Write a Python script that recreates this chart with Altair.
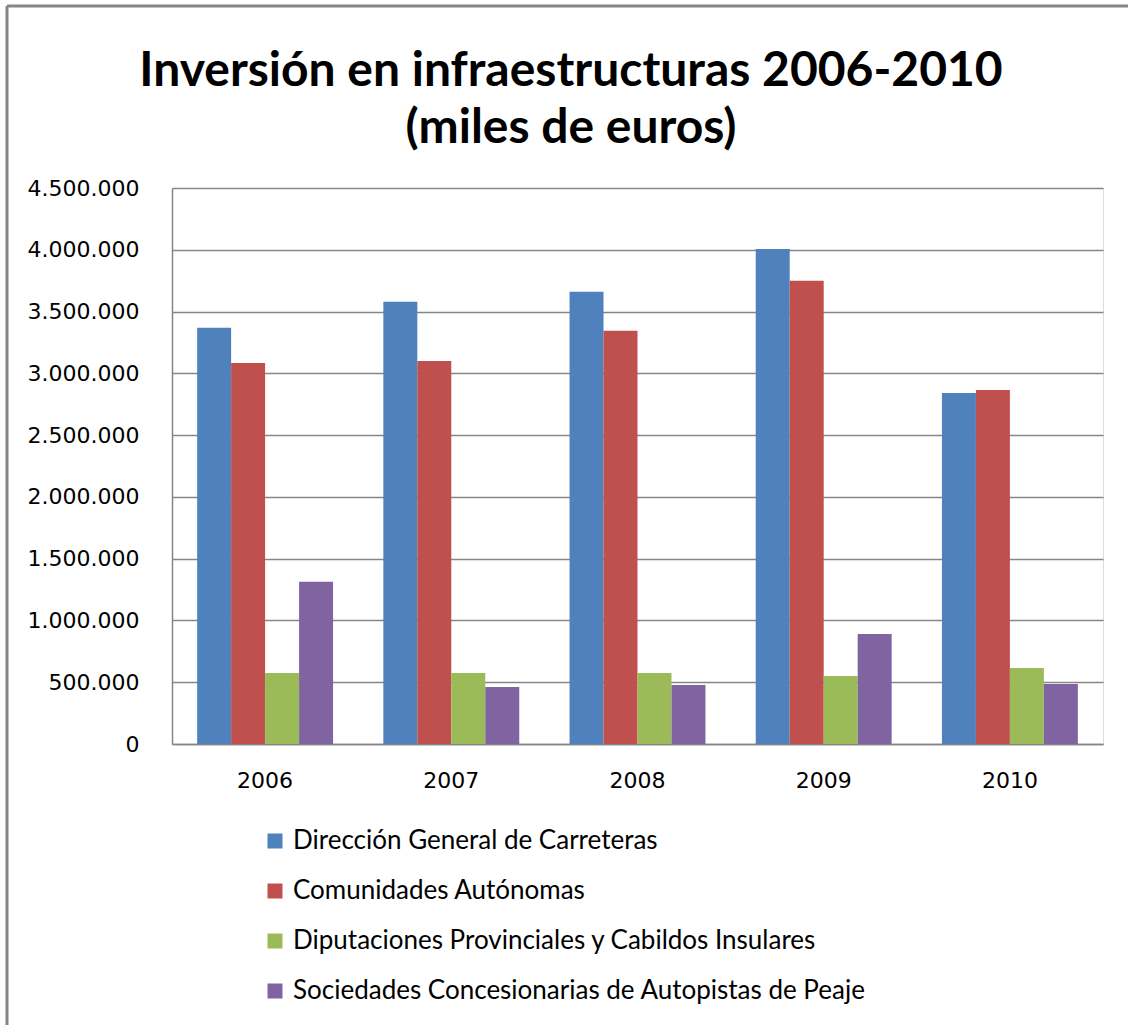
import altair as alt
import pandas as pd

years = ["2006", "2007", "2008", "2009", "2010"]
series = [
    "Dirección General de Carreteras",
    "Comunidades Autónomas",
    "Diputaciones Provinciales y Cabildos Insulares",
    "Sociedades Concesionarias de Autopistas de Peaje",
]
dgc = [3368000, 3579000, 3660000, 4006000, 2841000]
cca = [3084000, 3100000, 3344000, 3749000, 2866000]
dip = [575000, 575000, 575000, 551000, 616000]
soc = [1313000, 462000, 478000, 891000, 486000]
colors = ["#4F81BD", "#C0504D", "#9BBB59", "#8064A2"]
title_lines = ["Inversión en infraestructuras 2006-2010", "(miles de euros)"]

rows = []
for s, vals in zip(series, [dgc, cca, dip, soc]):
    for y, v in zip(years, vals):
        rows.append({"year": y, "serie": s, "value": v})
df = pd.DataFrame(rows)
one = pd.DataFrame({"k": [0]})

W, H = 931, 556
L, T = 172, 188

bars = alt.Chart(df).mark_bar().encode(
    x=alt.X("year:N", sort=years,
            scale=alt.Scale(paddingInner=0.27, paddingOuter=0.135),
            axis=alt.Axis(title=None, labelAngle=0, labelFont="DejaVu Sans",
                          labelFontSize=22, labelColor="#000000", labelPadding=26,
                          labelBaseline="top",
                          ticks=False, domainColor="#868686", domainWidth=1.5,
                          grid=False)),
    xOffset=alt.XOffset("serie:N", sort=series, scale=alt.Scale(paddingInner=0, paddingOuter=0)),
    y=alt.Y("value:Q", scale=alt.Scale(domain=[0, 4500000], nice=False),
            axis=alt.Axis(title=None, values=list(range(0, 4500001, 500000)),
                          labelExpr="replace(format(datum.value, ','), /,/g, '.')",
                          labelFont="DejaVu Sans", labelFontSize=22, labelColor="#000000",
                          labelPadding=33, ticks=False, domainColor="#868686",
                          domainWidth=1.5, gridColor="#868686", gridWidth=1.5)),
    color=alt.Color("serie:N", sort=series,
                    scale=alt.Scale(domain=series, range=colors),
                    legend=alt.Legend(title=None, orient="none", legendX=90, legendY=640,
                                      direction="vertical", symbolType="square",
                                      symbolSize=225, symbolStrokeWidth=0,
                                      labelFont="Lato", labelFontSize=26,
                                      labelColor="#000000", labelOffset=5,
                                      rowPadding=24, padding=0, labelLimit=800)),
)

title1 = alt.Chart(one).mark_text(
    text=title_lines[0], font="Lato", fontSize=48, fontWeight="bold", color="#000000",
    align="center", baseline="alphabetic"
).encode(x=alt.value(571 - L), y=alt.value(86 - T))
title2 = alt.Chart(one).mark_text(
    text=title_lines[1], font="Lato", fontSize=48, fontWeight="bold", color="#000000",
    align="center", baseline="alphabetic"
).encode(x=alt.value(571 - L), y=alt.value(143 - T))

border_left = alt.Chart(one).mark_rule(color="#868686", strokeWidth=3).encode(
    x=alt.value(7 - L), y=alt.value(6 - T), y2=alt.value(1025 - T)
)
border_top = alt.Chart(one).mark_rule(color="#868686", strokeWidth=3).encode(
    x=alt.value(7 - L), x2=alt.value(1128 - L), y=alt.value(6 - T)
)

chart = alt.layer(bars, title1, title2, border_left, border_top).properties(
    width=W, height=H,
    padding={"left": L, "top": T, "right": 1128 - L - W, "bottom": 1025 - T - H},
    autosize=alt.AutoSizeParams(type="none"),
).configure_view(stroke=None).configure(background="#ffffff")

chart.save("out.html", embed_options={"renderer": "svg", "actions": False})
